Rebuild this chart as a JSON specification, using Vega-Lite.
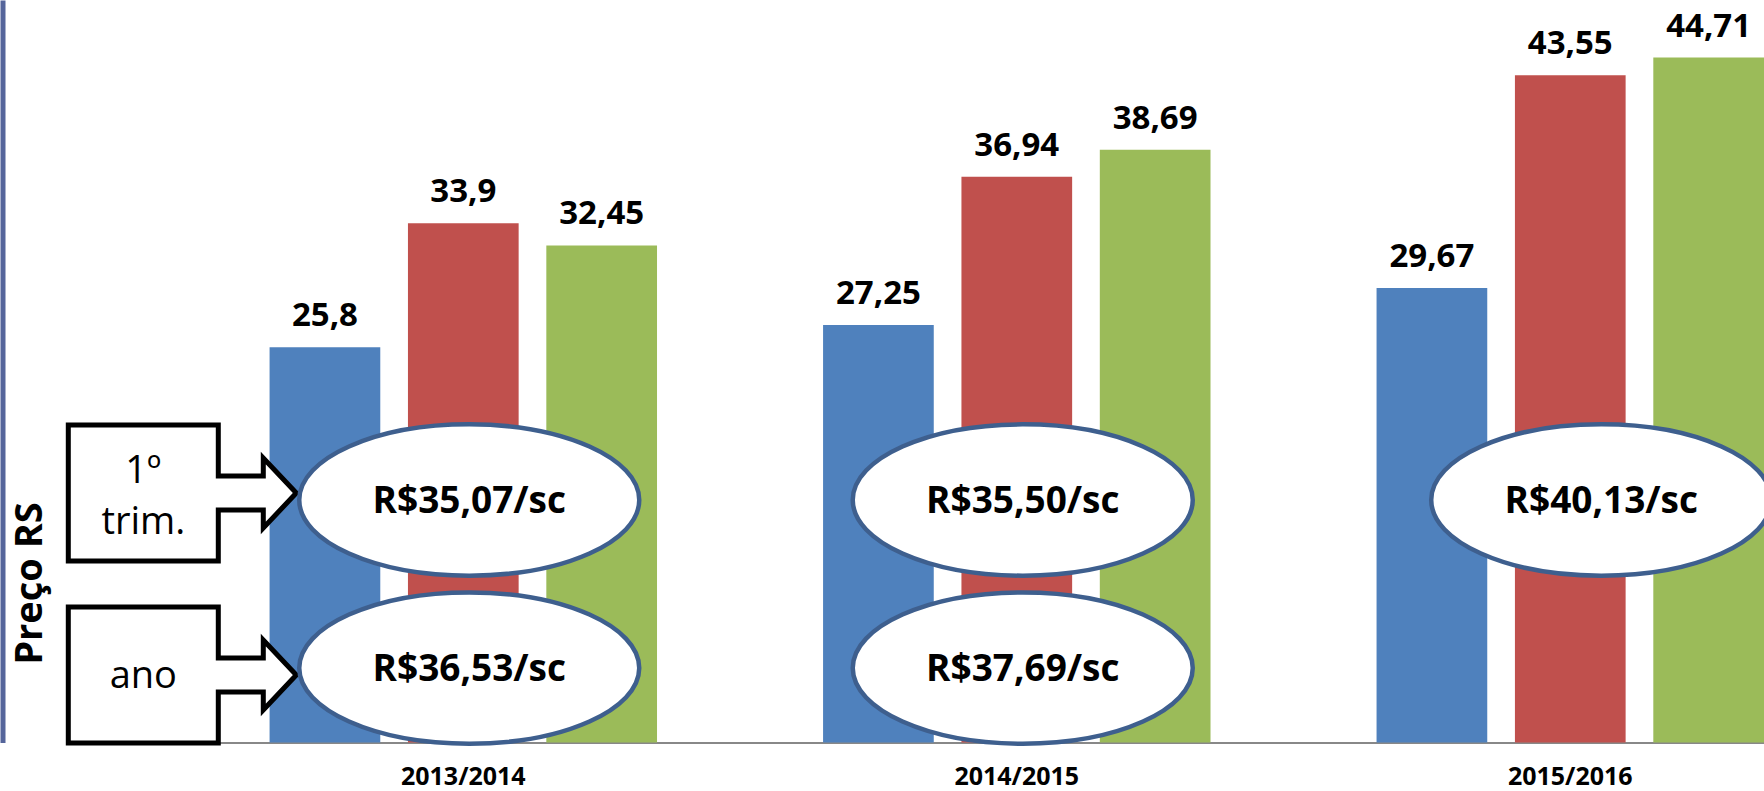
{
  "$schema": "https://vega.github.io/schema/vega-lite/v6.json",
  "width": 1697,
  "height": 742.5,
  "autosize": {"type": "none"},
  "padding": {"left": 67, "top": 0, "right": 0, "bottom": 48.5},
  "background": "white",
  "config": {
    "view": {"stroke": null},
    "font": "Open Sans",
    "locale": {"number": {"decimal": ",", "thousands": ".", "grouping": [3], "currency": ["R$", ""]}}
  },
  "datasets": {
    "precos": [
      {"safra": "2013/2014", "serie": "Série 1", "preco": 25.8},
      {"safra": "2013/2014", "serie": "Série 2", "preco": 33.9},
      {"safra": "2013/2014", "serie": "Série 3", "preco": 32.45},
      {"safra": "2014/2015", "serie": "Série 1", "preco": 27.25},
      {"safra": "2014/2015", "serie": "Série 2", "preco": 36.94},
      {"safra": "2014/2015", "serie": "Série 3", "preco": 38.69},
      {"safra": "2015/2016", "serie": "Série 1", "preco": 29.67},
      {"safra": "2015/2016", "serie": "Série 2", "preco": 43.55},
      {"safra": "2015/2016", "serie": "Série 3", "preco": 44.71}
    ],
    "medias": [
      {"safra": "2013/2014", "periodo": "1º trim.", "media": "R$35,07/sc"},
      {"safra": "2014/2015", "periodo": "1º trim.", "media": "R$35,50/sc"},
      {"safra": "2015/2016", "periodo": "1º trim.", "media": "R$40,13/sc"},
      {"safra": "2013/2014", "periodo": "ano", "media": "R$36,53/sc"},
      {"safra": "2014/2015", "periodo": "ano", "media": "R$37,69/sc"}
    ],
    "chamadas": [
      {"periodo": "1º trim."},
      {"periodo": "ano"}
    ]
  },
  "layer": [
    {
      "data": {"name": "precos"},
      "mark": {"type": "bar"},
      "encoding": {
        "x": {
          "field": "safra",
          "type": "nominal",
          "scale": {"paddingInner": 0.3, "paddingOuter": 0.183, "align": 1},
          "axis": {
            "title": null,
            "labelFontSize": 25,
            "labelFontWeight": "bold",
            "labelColor": "black",
            "ticks": false,
            "tickSize": 0,
            "domainColor": "#888888",
            "domainWidth": 2,
            "labelPadding": 42,
            "labelBaseline": "alphabetic",
            "labelAngle": 0,
            "grid": false
          }
        },
        "xOffset": {"field": "serie", "type": "nominal", "scale": {"paddingInner": 0.2, "paddingOuter": 0}},
        "y": {
          "field": "preco",
          "type": "quantitative",
          "scale": {"domain": [0, 48.47], "nice": false, "zero": true},
          "axis": {
            "title": "Preço RS",
            "labels": false,
            "ticks": false,
            "grid": false,
            "domain": true,
            "domainColor": "#55659b",
            "domainWidth": 5,
            "offset": 64.5,
            "titleFontSize": 38,
            "titleFontWeight": "bold",
            "titleColor": "black",
            "titleX": 38.5,
            "titleY": 583,
            "titleAngle": -90,
            "titleAlign": "center",
            "titleBaseline": "alphabetic"
          }
        },
        "color": {
          "field": "serie",
          "type": "nominal",
          "scale": {"range": ["#4f81bd", "#c0504d", "#9bbb59"]},
          "legend": null
        }
      }
    },
    {
      "data": {"name": "precos"},
      "mark": {"type": "text", "fontSize": 33, "fontWeight": "bold", "color": "black", "baseline": "alphabetic", "dy": -21},
      "encoding": {
        "x": {"field": "safra", "type": "nominal"},
        "xOffset": {"field": "serie", "type": "nominal"},
        "y": {"field": "preco", "type": "quantitative"},
        "text": {"field": "preco", "type": "quantitative", "format": "~r"}
      }
    },
    {
      "data": {"name": "chamadas"},
      "transform": [{"filter": "datum.periodo == '1º trim.'"}],
      "encoding": {
        "x": {"datum": "2013/2014", "type": "nominal"},
        "y": {"datum": 16.29, "type": "quantitative"}
      },
      "layer": [
        {
          "mark": {
            "type": "point",
            "shape": "M-0.9875,-0.17L-0.6125,-0.17L-0.6125,-0.0425L-0.5,-0.0425L-0.5,-0.0875L-0.4175,0L-0.5,0.0875L-0.5,0.0425L-0.6125,0.0425L-0.6125,0.17L-0.9875,0.17Z",
            "size": 640000,
            "filled": true,
            "fill": "white",
            "stroke": "black",
            "strokeWidth": 5,
            "strokeJoin": "miter",
            "opacity": 1,
            "fillOpacity": 1
          }
        },
        {
          "mark": {"type": "text", "fontSize": 38, "color": "black", "lineBreak": " ", "lineHeight": 51, "baseline": "middle", "dx": -320, "dy": -21},
          "encoding": {"text": {"field": "periodo"}}
        }
      ]
    },
    {
      "data": {"name": "chamadas"},
      "transform": [{"filter": "datum.periodo == 'ano'"}],
      "encoding": {
        "x": {"datum": "2013/2014", "type": "nominal"},
        "y": {"datum": 4.41, "type": "quantitative"}
      },
      "layer": [
        {
          "mark": {
            "type": "point",
            "shape": "M-0.9875,-0.17L-0.6125,-0.17L-0.6125,-0.0425L-0.5,-0.0425L-0.5,-0.0875L-0.4175,0L-0.5,0.0875L-0.5,0.0425L-0.6125,0.0425L-0.6125,0.17L-0.9875,0.17Z",
            "size": 640000,
            "filled": true,
            "fill": "white",
            "stroke": "black",
            "strokeWidth": 5,
            "strokeJoin": "miter",
            "opacity": 1,
            "fillOpacity": 1
          }
        },
        {
          "mark": {"type": "text", "fontSize": 38, "color": "black", "baseline": "middle", "dx": -320, "dy": 2},
          "encoding": {"text": {"field": "periodo"}}
        }
      ]
    },
    {
      "data": {"name": "medias"},
      "transform": [{"filter": "datum.periodo == '1º trim.' && datum.safra != '2015/2016'"}],
      "encoding": {
        "x": {"field": "safra", "type": "nominal"},
        "y": {"datum": 15.83, "type": "quantitative"}
      },
      "layer": [
        {
          "mark": {
            "type": "point",
            "shape": "M-0.965,0C-0.965,-0.2458,-0.5173,-0.445,0.035,-0.445C0.5873,-0.445,1.035,-0.2458,1.035,0C1.035,0.2458,0.5873,0.445,0.035,0.445C-0.5173,0.445,-0.965,0.2458,-0.965,0Z",
            "size": 115600,
            "filled": true,
            "fill": "white",
            "stroke": "#3e5f8e",
            "strokeWidth": 4.5,
            "opacity": 1,
            "fillOpacity": 1
          }
        },
        {
          "mark": {"type": "text", "fontSize": 37, "fontWeight": "bold", "color": "black", "baseline": "alphabetic", "dx": 6, "dy": 13},
          "encoding": {"text": {"field": "media"}}
        }
      ]
    },
    {
      "data": {"name": "medias"},
      "transform": [{"filter": "datum.periodo == '1º trim.' && datum.safra == '2015/2016'"}],
      "encoding": {
        "x": {"field": "safra", "type": "nominal"},
        "y": {"datum": 15.83, "type": "quantitative"}
      },
      "layer": [
        {
          "mark": {
            "type": "point",
            "shape": "M-0.818,0C-0.818,-0.2458,-0.3703,-0.445,0.182,-0.445C0.7343,-0.445,1.182,-0.2458,1.182,0C1.182,0.2458,0.7343,0.445,0.182,0.445C-0.3703,0.445,-0.818,0.2458,-0.818,0Z",
            "size": 115600,
            "filled": true,
            "fill": "white",
            "stroke": "#3e5f8e",
            "strokeWidth": 4.5,
            "opacity": 1,
            "fillOpacity": 1
          }
        },
        {
          "mark": {"type": "text", "fontSize": 37, "fontWeight": "bold", "color": "black", "baseline": "alphabetic", "dx": 31, "dy": 13},
          "encoding": {"text": {"field": "media"}}
        }
      ]
    },
    {
      "data": {"name": "medias"},
      "transform": [{"filter": "datum.periodo == 'ano'"}],
      "encoding": {
        "x": {"field": "safra", "type": "nominal"},
        "y": {"datum": 4.86, "type": "quantitative"}
      },
      "layer": [
        {
          "mark": {
            "type": "point",
            "shape": "M-0.965,0C-0.965,-0.2458,-0.5173,-0.445,0.035,-0.445C0.5873,-0.445,1.035,-0.2458,1.035,0C1.035,0.2458,0.5873,0.445,0.035,0.445C-0.5173,0.445,-0.965,0.2458,-0.965,0Z",
            "size": 115600,
            "filled": true,
            "fill": "white",
            "stroke": "#3e5f8e",
            "strokeWidth": 4.5,
            "opacity": 1,
            "fillOpacity": 1
          }
        },
        {
          "mark": {"type": "text", "fontSize": 37, "fontWeight": "bold", "color": "black", "baseline": "alphabetic", "dx": 6, "dy": 13},
          "encoding": {"text": {"field": "media"}}
        }
      ]
    }
  ]
}
